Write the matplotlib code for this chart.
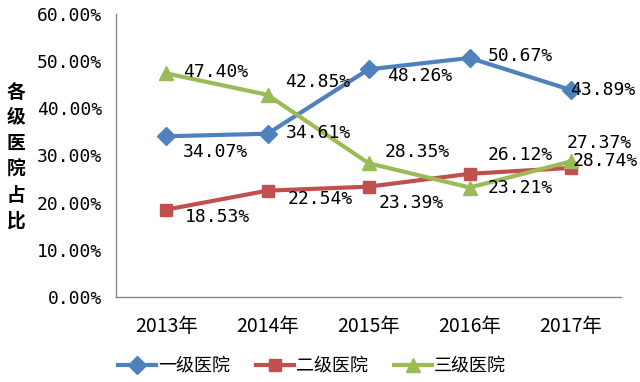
import matplotlib
matplotlib.use("Agg")
import matplotlib.pyplot as plt
from matplotlib.ticker import FuncFormatter

plt.rcParams["font.family"] = ["Noto Sans CJK SC", "DejaVu Sans"]

anos = ["2013年", "2014年", "2015年", "2016年", "2017年"]
nivel_1 = [34.07, 34.61, 48.26, 50.67, 43.89]
nivel_2 = [18.53, 22.54, 23.39, 26.12, 27.37]
nivel_3 = [47.40, 42.85, 28.35, 23.21, 28.74]

series = [
    ("一级医院", nivel_1, "#4F81BD", "D", 9),
    ("二级医院", nivel_2, "#C0504D", "s", 9),
    ("三级医院", nivel_3, "#9BBB59", "^", 10),
]

# deslocamento dos rótulos em pixels (dx, dy)
offsets = {
    "一级医院": [(16, -16), (18, 1), (18, -7), (18, 2), (-1, 0)],
    "二级医院": [(18, -7), (20, -8), (10, -16), (18, 19), (-4, 25)],
    "三级医院": [(17, 1), (18, 13), (16, 11), (18, 0), (2, 0)],
}

fig = plt.figure(figsize=(6.4, 3.82), dpi=100)
ax = fig.add_axes([0.181, 0.2225, 0.79, 0.741])

x = list(range(len(anos)))
for nome, vals, cor, mk, ms in series:
    ax.plot(x, vals, color=cor, linewidth=3, marker=mk, markersize=ms,
            label=nome, zorder=3)
    for i, v in enumerate(vals):
        dx, dy = offsets[nome][i]
        ax.annotate(f"{v:.2f}%", (i, v), xytext=(dx, dy),
                    textcoords="offset pixels", ha="left", va="center",
                    fontsize=13, family="DejaVu Sans Mono", color="black",
                    zorder=4)

ax.set_xlim(-0.5, len(anos) - 0.5)
ax.set_ylim(0, 60)
ax.set_yticks(range(0, 61, 10))
ax.yaxis.set_major_formatter(FuncFormatter(lambda v, _: f"{v:.2f}%"))
ax.set_xticks(x)
ax.set_xticklabels(anos, fontsize=14)
for t in ax.get_yticklabels():
    t.set_family("DejaVu Sans Mono")
    t.set_fontsize(13)
ax.tick_params(axis="y", length=0, pad=10)
ax.tick_params(axis="x", length=0, pad=14)

for s in ["top", "right"]:
    ax.spines[s].set_visible(False)
for s in ["left", "bottom"]:
    ax.spines[s].set_color("#868686")
    ax.spines[s].set_linewidth(1)

fig.text(0.025, 0.59, "\n".join("各级医院占比"), fontsize=13.5, fontweight="bold",
         ha="center", va="center", linespacing=1.45)

fig.legend(loc="center", bbox_to_anchor=(312 / 640, 0.042), ncol=3,
           frameon=False, fontsize=13, handlelength=2.1, columnspacing=1.4,
           handletextpad=0.15, borderaxespad=0)

fig.savefig("out.png", dpi=100)
